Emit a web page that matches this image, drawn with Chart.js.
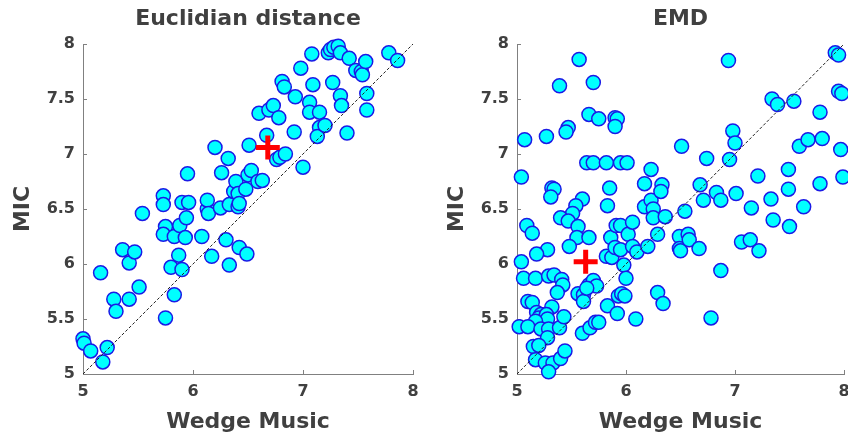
<!DOCTYPE html>
<meta charset="utf-8">
<html lang="en">
<head>
  <title>MIC vs Wedge Music</title>
  <style type="text/css">
  html, body { margin: 0; padding: 0; background: #fff; overflow: hidden; width: 848px; height: 437px; }
  .panel { position: absolute; top: 0; }
  </style>
</head>
<body>

<div class="panel" style="left:0px"><canvas id="euclid" width="424" height="437"></canvas></div>
<div class="panel" style="left:424px"><canvas id="emd" width="431" height="437"></canvas></div>

<script src="https://cdn.jsdelivr.net/npm/chart.js"></script>

<script>

  // axis ticks shared by both panels
  const xTicks = [5, 6, 7, 8];
  const yTicks = [5, 5.5, 6, 6.5, 7, 7.5, 8];
  const diagX = [5, 8];
  const diagY = [5, 8];

  // Euclidian distance panel
  const euclidX = [5.00,5.01,5.07,5.18,5.22,5.16,5.28,5.30,5.36,5.42,5.47,5.42,5.51,5.54,5.73,5.73,5.75,5.73,5.83,5.88,
    5.90,5.96,5.94,5.93,5.95,5.87,5.80,5.90,5.83,5.75,6.08,6.13,6.13,6.14,6.25,6.17,6.30,6.20,6.32,6.26,
    6.33,6.42,6.49,6.33,6.37,6.39,6.41,6.41,6.42,6.48,6.50,6.53,6.59,6.63,6.51,6.67,6.76,6.79,6.84,6.60,
    6.69,6.73,6.78,6.81,6.83,6.93,6.92,6.98,7.00,7.08,7.09,7.06,7.06,7.15,7.15,7.13,7.20,7.27,7.23,7.25,
    7.28,7.32,7.34,7.42,7.34,7.35,7.40,7.48,7.53,7.54,7.57,7.58,7.58,7.78,7.86];
  const euclidY = [5.32,5.28,5.21,5.11,5.24,5.92,5.68,5.57,6.13,6.01,6.11,5.68,5.79,6.46,6.62,6.54,6.34,6.27,6.25,6.35,
    6.56,6.56,6.42,6.24,6.82,6.08,5.97,5.95,5.72,5.51,6.25,6.50,6.58,6.46,6.51,6.07,6.22,7.06,6.96,6.83,
    5.99,6.15,6.09,6.54,6.66,6.75,6.64,6.52,6.55,6.68,6.81,6.85,6.75,6.76,7.08,7.17,6.95,6.97,7.00,7.37,
    7.40,7.44,7.33,7.66,7.61,7.52,7.20,7.78,6.88,7.91,7.63,7.47,7.38,7.38,7.24,7.16,7.26,7.65,7.92,7.95,
    7.97,7.98,7.92,7.87,7.53,7.44,7.19,7.76,7.75,7.72,7.84,7.55,7.40,7.92,7.85];
  const euclidMark = [6.68, 7.06];

  // EMD panel
  const emdX = [5.57,5.39,5.70,5.66,5.75,5.90,5.92,5.90,5.47,5.45,5.07,5.27,5.04,5.64,5.70,5.82,5.95,6.01,5.32,5.34,
    5.31,5.85,5.83,5.60,5.54,5.51,5.40,5.47,5.56,5.09,5.14,5.55,5.66,5.48,5.28,5.18,5.04,5.06,5.17,5.29,
    5.34,5.41,5.42,5.37,5.10,5.14,5.32,5.18,5.22,5.20,5.27,5.28,5.17,5.02,5.10,5.22,5.29,5.39,5.43,5.28,
    5.15,5.20,5.17,5.26,5.33,5.29,5.40,5.44,5.56,5.61,5.61,5.66,5.70,5.73,5.64,5.60,5.67,5.72,5.75,5.82,
    5.87,5.86,5.90,5.95,5.91,5.95,6.02,6.06,6.06,6.10,5.98,6.00,5.93,5.96,5.99,5.83,5.92,6.09,6.17,6.23,
    6.17,6.23,6.25,6.25,6.33,6.32,6.36,6.20,6.29,6.29,6.34,6.51,6.54,6.49,6.49,6.50,6.57,6.58,6.67,6.68,
    6.71,6.74,6.78,6.83,6.87,6.87,6.94,6.95,6.98,7.00,7.01,7.06,7.14,7.15,7.22,7.21,7.33,7.35,7.34,7.39,
    7.54,7.49,7.49,7.50,7.63,7.59,7.67,7.78,7.80,7.78,7.92,7.95,7.95,7.98,7.97,7.99];
  const emdY = [7.86,7.62,7.65,7.36,7.32,7.33,7.32,7.25,7.24,7.20,7.13,7.16,6.79,6.92,6.92,6.92,6.92,6.92,6.69,6.68,
    6.61,6.69,6.53,6.59,6.53,6.46,6.42,6.39,6.34,6.35,6.28,6.24,6.24,6.16,6.13,6.09,6.02,5.87,5.87,5.89,
    5.90,5.86,5.81,5.74,5.66,5.65,5.61,5.56,5.54,5.51,5.54,5.50,5.48,5.43,5.43,5.41,5.41,5.42,5.52,5.33,
    5.25,5.26,5.13,5.10,5.10,5.02,5.14,5.21,5.73,5.72,5.66,5.81,5.85,5.80,5.78,5.37,5.42,5.47,5.47,6.07,
    6.06,6.24,6.15,6.13,6.35,6.35,6.27,6.38,6.16,6.11,5.99,5.87,5.71,5.73,5.71,5.62,5.55,5.50,6.73,6.86,
    6.52,6.58,6.50,6.42,6.72,6.66,6.43,6.16,6.27,5.74,5.64,7.07,6.48,6.25,6.14,6.12,6.27,6.22,6.14,6.72,
    6.58,6.96,5.51,6.65,6.58,5.94,7.85,6.95,7.21,7.10,6.64,6.20,6.22,6.51,6.12,6.80,6.59,6.40,7.50,7.45,
    7.48,6.86,6.68,6.34,6.52,7.07,7.13,7.38,7.14,6.73,7.92,7.90,7.57,7.55,7.04,6.79];
  const emdMark = [5.63, 6.02];

  const TEXT = '#404040';
  const AXIS = '#808080';
  const FONT = '"DejaVu Sans", "Liberation Sans", sans-serif';

  function pts(xs, ys) {
    return xs.map((v, i) => ({x: v, y: ys[i]}));
  }

  // title above the plot area + MATLAB style inward tick marks
  const frame = {
    id: 'frame',
    beforeDatasetsDraw(chart, args, opts) {
      const {ctx, chartArea: a, scales: {x, y}} = chart;
      ctx.save();
      ctx.strokeStyle = AXIS;
      ctx.lineWidth = 1;
      ctx.beginPath();
      xTicks.forEach(v => {
        const px = Math.round(x.getPixelForValue(v)) + 0.5;
        ctx.moveTo(px, a.bottom);
        ctx.lineTo(px, a.bottom - 4);
      });
      yTicks.forEach(v => {
        const py = Math.round(y.getPixelForValue(v)) + 0.5;
        ctx.moveTo(a.left, py);
        ctx.lineTo(a.left + 4, py);
      });
      ctx.stroke();
      ctx.font = 'bold 22px ' + FONT;
      ctx.fillStyle = TEXT;
      ctx.textAlign = 'center';
      ctx.textBaseline = 'middle';
      ctx.fillText(opts.text, (a.left + a.right) / 2, 19);
      ctx.restore();
    }
  };

  function makeChart(id, title, xs, ys, mark, yAxisW, yTitlePad) {
    return new Chart(document.getElementById(id), {
      type: 'scatter',
      plugins: [frame],
      data: {
        datasets: [{
          // reference marker, drawn on top
          data: [{x: mark[0], y: mark[1]}],
          pointStyle: 'cross',
          pointRadius: 12,
          borderWidth: 5,
          borderColor: '#ff0000',
          clip: false
        }, {
          data: pts(diagX, diagY),
          showLine: true,
          pointRadius: 0,
          borderColor: '#222222',
          borderWidth: 1,
          borderDash: [3, 2]
        }, {
          data: pts(xs, ys),
          pointRadius: 7,
          borderWidth: 1.5,
          backgroundColor: '#00ffff',
          borderColor: '#1a1ae6',
          clip: false
        }]
      },
      options: {
        responsive: false,
        animation: false,
        events: [],
        layout: {autoPadding: false, padding: {top: 44, right: 11, left: 0, bottom: 0}},
        plugins: {
          legend: {display: false},
          tooltip: {enabled: false},
          frame: {text: title}
        },
        scales: {
          x: {
            type: 'linear', min: 5, max: 8,
            afterBuildTicks: (axis) => { axis.ticks = xTicks.map(v => ({value: v})); },
            afterFit: (axis) => { axis.height = 63; axis.paddingLeft = 0; axis.paddingRight = 0; },
            grid: {drawOnChartArea: false, drawTicks: false},
            border: {display: true, color: AXIS, width: 1},
            ticks: {color: TEXT, padding: 8, callback: (v) => String(v),
              font: {family: FONT, size: 16, weight: 'bold'}},
            title: {display: true, text: 'Wedge Music', color: TEXT, padding: {top: 0, bottom: 2},
              font: {family: FONT, size: 22, weight: 'bold'}}
          },
          y: {
            type: 'linear', min: 5, max: 8,
            afterBuildTicks: (axis) => { axis.ticks = yTicks.map(v => ({value: v})); },
            afterFit: (axis) => { axis.width = yAxisW; axis.paddingTop = 0; axis.paddingBottom = 0; },
            grid: {drawOnChartArea: false, drawTicks: false},
            border: {display: true, color: AXIS, width: 1},
            ticks: {color: TEXT, padding: 8, callback: (v) => String(v),
              font: {family: FONT, size: 16, weight: 'bold'}},
            title: {display: true, text: 'MIC', color: TEXT, padding: {top: yTitlePad, bottom: 0},
              font: {family: FONT, size: 22, weight: 'bold'}}
          }
        }
      }
    });
  }

  makeChart('euclid', 'Euclidian distance', euclidX, euclidY, euclidMark, 83, 10);
  makeChart('emd', 'EMD', emdX, emdY, emdMark, 93, 20);

</script>
</body>
</html>
